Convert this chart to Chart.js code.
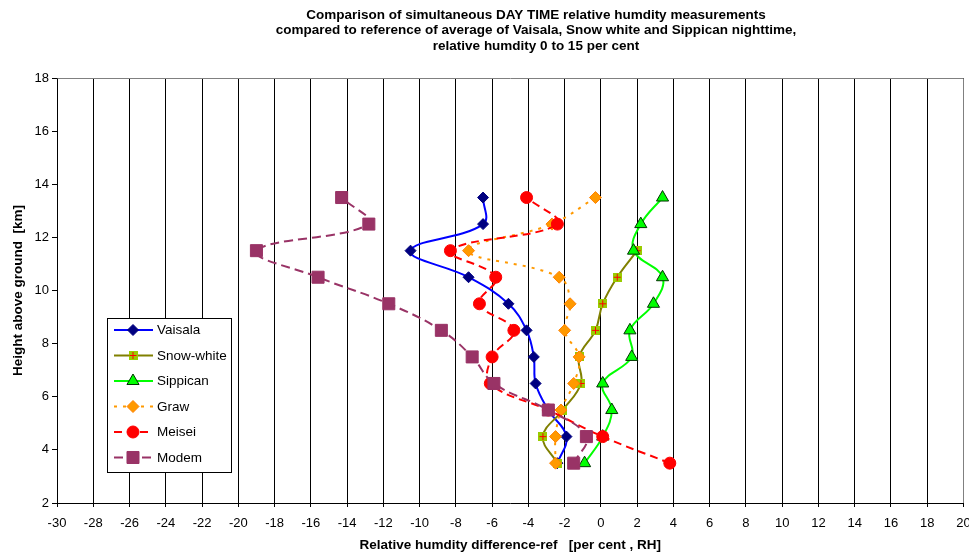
<!DOCTYPE html>
<html>
<head>
<meta charset="utf-8">
<script src="https://cdn.jsdelivr.net/npm/chart.js@4"></script>
<style>
body { margin: 0; background: #fff; overflow: hidden; }
#wrap { width: 973px; height: 554px; position: relative; }
</style>
</head>
<body>
<div id="wrap"><canvas id="myChart"></canvas></div>
<script>
// heights [km] of the layer means, differences in per cent RH
const heights   = [3.5, 4.5, 5.5, 6.5, 7.5, 8.5, 9.5, 10.5, 11.5, 12.5, 13.5];
const vaisala   = [-2.4, -1.9, -2.9, -3.6, -3.7, -4.1, -5.1, -7.3, -10.5, -6.5, -6.5];
const snowWhite = [-2.4, -3.2, -2.1, -1.1, -1.2, -0.3, 0.1, 0.9, 2.0, null, null];
const sippican  = [-0.9, 0.1, 0.6, 0.1, 1.7, 1.6, 2.9, 3.4, 1.8, 2.2, 3.4];
const graw      = [-2.5, -2.5, -2.2, -1.5, -1.2, -2.0, -1.7, -2.3, -7.3, -2.7, -0.3];
const meisei    = [3.8, 0.1, -2.9, -6.1, -6.0, -4.8, -6.7, -5.8, -8.3, -2.4, -4.1];
const modem     = [-1.5, -0.8, -2.9, -5.9, -7.1, -8.8, -11.7, -15.6, -19.0, -12.8, -14.3];

const titleLines = [
  'Comparison of simultaneous DAY TIME relative humdity measurements',
  'compared to reference of average of Vaisala, Snow white and Sippican nighttime,',
  'relative humdity 0 to 15 per cent'
];
const xTitle = 'Relative humdity difference-ref   [per cent , RH]';
const yTitle = 'Height above ground  [km]';

const FONT = '"Liberation Sans", Arial, sans-serif';
Chart.defaults.font.family = FONT;
Chart.defaults.color = '#000';

function toPoints(vals) {
  const pts = [];
  vals.forEach(function(v, i) {
    if (v !== null) pts.push({x: v, y: heights[i]});
  });
  return pts;
}

// yellow-green square with a red cross
function snowMarker() {
  const c = document.createElement('canvas');
  c.width = 9; c.height = 9;
  const g = c.getContext('2d');
  g.fillStyle = '#99CC00';
  g.fillRect(0, 0, 9, 9);
  g.strokeStyle = '#FF0000';
  g.lineWidth = 1;
  g.beginPath();
  g.moveTo(4.5, 1); g.lineTo(4.5, 8);
  g.moveTo(1, 4.5); g.lineTo(8, 4.5);
  g.stroke();
  return c;
}

function series(label, vals, line, fill, edge, style, radius, dash, order) {
  return {
    label: label,
    data: toPoints(vals),
    showLine: true,
    borderColor: line,
    borderWidth: 2,
    borderDash: dash,
    tension: 0.4,
    pointStyle: style,
    pointRadius: radius,
    pointBackgroundColor: fill,
    pointBorderColor: edge,
    pointBorderWidth: 1,
    pointHoverRadius: radius,
    order: order
  };
}

const frame = {
  id: 'frame',
  beforeDatasetsDraw(chart) {
    const a = chart.chartArea, ctx = chart.ctx;
    ctx.save();
    ctx.strokeStyle = '#808080';
    ctx.lineWidth = 1;
    ctx.beginPath();
    ctx.moveTo(Math.round(a.left) + 0.5, Math.round(a.top) + 0.5);
    ctx.lineTo(Math.round(a.right) - 0.5, Math.round(a.top) + 0.5);
    ctx.lineTo(Math.round(a.right) - 0.5, Math.round(a.bottom));
    ctx.stroke();
    ctx.restore();
  }
};

const topTitle = {
  id: 'topTitle',
  afterDraw(chart) {
    const ctx = chart.ctx;
    ctx.save();
    ctx.font = 'bold 13.5px ' + FONT;
    ctx.fillStyle = '#000';
    ctx.textAlign = 'center';
    ctx.textBaseline = 'middle';
    titleLines.forEach(function(t, i) { ctx.fillText(t, 536, 15 + i * 15.5); });
    ctx.restore();
  }
};

const boxLegend = {
  id: 'boxLegend',
  afterDraw(chart) {
    const ctx = chart.ctx;
    const left = 107, top = 318, w = 124, h = 154;
    ctx.save();
    ctx.fillStyle = '#fff';
    ctx.fillRect(left, top, w, h);
    ctx.strokeStyle = '#000';
    ctx.lineWidth = 1;
    ctx.strokeRect(left + 0.5, top + 0.5, w, h);
    chart.data.datasets.forEach(function(ds, i) {
      const y = 330 + i * 25.5;
      ctx.setLineDash(ds.borderDash || []);
      ctx.strokeStyle = ds.borderColor;
      ctx.lineWidth = ds.borderWidth;
      ctx.beginPath();
      ctx.moveTo(114, y); ctx.lineTo(153, y);
      ctx.stroke();
      ctx.setLineDash([]);
      ctx.fillStyle = ds.pointBackgroundColor;
      ctx.strokeStyle = ds.pointBorderColor;
      ctx.lineWidth = ds.pointBorderWidth;
      Chart.helpers.drawPoint(ctx, {
        pointStyle: ds.pointStyle, radius: ds.pointRadius, rotation: 0, borderWidth: ds.pointBorderWidth
      }, 133, y);
      ctx.fillStyle = '#000';
      ctx.font = '13.5px ' + FONT;
      ctx.textAlign = 'left';
      ctx.textBaseline = 'middle';
      ctx.fillText(ds.label, 157, y + 0.5);
    });
    ctx.restore();
  }
};

const ctx = document.getElementById('myChart').getContext('2d');
const myChart = new Chart(ctx, {
  type: 'scatter',
  data: {
    datasets: [
      series('Vaisala', vaisala, '#0000FF', '#000080', '#000080', 'rectRot', 5.5, [], 6),
      series('Snow-white', snowWhite, '#808000', '#99CC00', '#99CC00', snowMarker(), 4.5, [], 5),
      series('Sippican', sippican, '#00FF00', '#00FF00', '#003300', 'triangle', 7, [], 4),
      series('Graw', graw, '#FF9900', '#FF9900', '#FF8000', 'rectRot', 6, [3, 6], 3),
      series('Meisei', meisei, '#FF0000', '#FF0000', '#FF0000', 'circle', 6, [8, 5], 2),
      series('Modem', modem, '#993366', '#993366', '#993366', 'rect', 8.5, [9, 5], 1)
    ]
  },
  options: {
    responsive: true,
    maintainAspectRatio: false,
    animation: false,
    events: [],
    layout: { padding: { top: 78, left: 0, right: 0, bottom: 0 } },
    plugins: {
      legend: { display: false },
      tooltip: { enabled: false }
    },
    scales: {
      x: {
        type: 'linear',
        position: 'bottom',
        min: -30, max: 20,
        ticks: { stepSize: 2, font: { size: 13 }, padding: 9, maxRotation: 0, autoSkip: false },
        grid: { color: '#000', lineWidth: 1, tickLength: 4 },
        border: { color: '#000' },
        title: { display: true, text: xTitle, font: { size: 13.5, weight: 'bold' }, padding: { top: 0, bottom: 1 } },
        afterFit(s) { s.height = 51; s.paddingLeft = 0; s.paddingRight = 0; }
      },
      y: {
        type: 'linear',
        position: 'left',
        min: 2, max: 18,
        ticks: { stepSize: 2, font: { size: 13 }, padding: 3 },
        grid: { drawOnChartArea: false, color: '#000', tickLength: 5 },
        border: { color: '#000' },
        title: { display: true, text: yTitle, font: { size: 13.5, weight: 'bold' }, padding: { top: 10, bottom: 0 } },
        afterFit(s) { s.width = 57; }
      }
    }
  },
  plugins: [frame, topTitle, boxLegend]
});
</script>
</body>
</html>
